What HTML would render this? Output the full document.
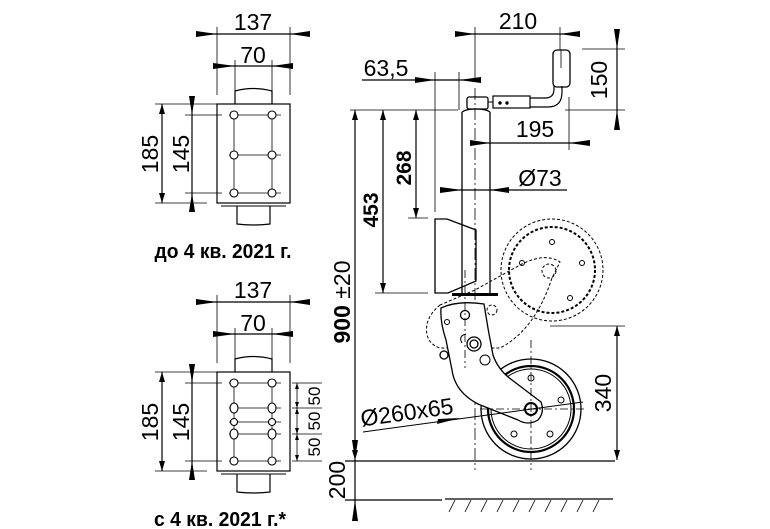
<!DOCTYPE html>
<html><head><meta charset="utf-8"><style>
html,body{margin:0;padding:0;background:#fff}
svg{display:block}
text{font-family:"Liberation Sans",sans-serif;fill:#000}
.b{font-weight:bold}
</style></head><body>
<svg width="770" height="529" viewBox="0 0 770 529" xmlns="http://www.w3.org/2000/svg">
<defs>
<marker id="a" viewBox="0 0 10 6" refX="10" refY="3" markerWidth="10" markerHeight="6" orient="auto-start-reverse" markerUnits="userSpaceOnUse"><path d="M0,0L10,3L0,6z" fill="#000"/></marker>
<g id="pv">
 <line x1="196" y1="34" x2="310" y2="34" stroke="#000" stroke-width="1.2"/>
 <path d="M196,31L217,34L196,37z M310,31L290,34L310,37z" fill="#000"/>
 <line x1="217" y1="27" x2="217" y2="95" stroke="#000" stroke-width="0.8"/>
 <line x1="290" y1="27" x2="290" y2="95" stroke="#000" stroke-width="0.8"/>
 <text x="253" y="30" font-size="23" text-anchor="middle">137</text>
 <line x1="213" y1="66" x2="293" y2="66" stroke="#000" stroke-width="1.2"/>
 <path d="M213,63L235,66L213,69z M293,63L272,66L293,69z" fill="#000"/>
 <line x1="235" y1="60" x2="235" y2="104" stroke="#000" stroke-width="0.8"/>
 <line x1="272" y1="60" x2="272" y2="104" stroke="#000" stroke-width="0.8"/>
 <text x="253" y="63" font-size="23" text-anchor="middle">70</text>
 <path d="M235,104V91Q253,86 272,91V104" fill="none" stroke="#000" stroke-width="1.2"/>
 <rect x="217" y="104" width="73" height="99" fill="none" stroke="#000" stroke-width="1.2"/>
 <line x1="221" y1="206" x2="286" y2="206" stroke="#000" stroke-width="1"/>
 <path d="M237,206V224Q253,226 270,224V206" fill="none" stroke="#000" stroke-width="1.2"/>
 <line x1="155" y1="104" x2="217" y2="104" stroke="#000" stroke-width="0.8"/>
 <line x1="155" y1="203" x2="207" y2="203" stroke="#000" stroke-width="0.8"/>
 <line x1="162" y1="104" x2="162" y2="203" stroke="#000" stroke-width="1.2" marker-start="url(#a)" marker-end="url(#a)"/>
 <text transform="translate(158,154) rotate(-90)" font-size="23" text-anchor="middle">185</text>
 <line x1="192" y1="96" x2="192" y2="212" stroke="#000" stroke-width="1.2"/>
 <path d="M189,96L192,115L195,96z M189,212L192,193L195,212z" fill="#000"/>
 <text transform="translate(189,154) rotate(-90)" font-size="23" text-anchor="middle">145</text>
</g>
</defs>

<use href="#pv"/>
<g stroke="#000" fill="none" stroke-width="0.8">
 <line x1="185" y1="115" x2="222" y2="115"/><line x1="185" y1="193" x2="222" y2="193"/>
 <line x1="229" y1="115" x2="281" y2="115"/><line x1="229" y1="155" x2="281" y2="155"/><line x1="229" y1="193" x2="281" y2="193"/>
 <line x1="234" y1="115" x2="234" y2="193"/><line x1="272" y1="115" x2="272" y2="193"/>
 <g fill="#fff" stroke-width="1.1">
 <circle cx="234" cy="115" r="4"/><circle cx="272" cy="115" r="4"/>
 <circle cx="234" cy="155" r="4"/><circle cx="272" cy="155" r="4"/>
 <circle cx="234" cy="193" r="4"/><circle cx="272" cy="193" r="4"/></g>
</g>
<text x="223" y="258" font-size="20" class="b" text-anchor="middle" textLength="137" lengthAdjust="spacingAndGlyphs">до 4 кв. 2021 г.</text>

<use href="#pv" transform="translate(0,268)"/>
<g stroke="#000" fill="none" stroke-width="0.8">
 <line x1="185" y1="383" x2="222" y2="383"/><line x1="185" y1="461" x2="222" y2="461"/>
 <line x1="229" y1="383" x2="281" y2="383"/><line x1="229" y1="408" x2="281" y2="408"/><line x1="229" y1="422" x2="281" y2="422"/><line x1="229" y1="434" x2="281" y2="434"/><line x1="229" y1="461" x2="281" y2="461"/>
 <line x1="234" y1="383" x2="234" y2="461"/><line x1="272" y1="383" x2="272" y2="461"/>
 <g fill="#fff" stroke-width="1.1">
 <circle cx="234" cy="383" r="4"/><circle cx="272" cy="383" r="4"/>
 <ellipse cx="234" cy="408" rx="4" ry="5"/><ellipse cx="272" cy="408" rx="4" ry="5"/>
 <circle cx="234" cy="422" r="3.5"/><circle cx="272" cy="422" r="3.5"/>
 <ellipse cx="234" cy="434" rx="4" ry="5"/><ellipse cx="272" cy="434" rx="4" ry="5"/>
 <circle cx="234" cy="461" r="4"/><circle cx="272" cy="461" r="4"/></g>
 <line x1="292" y1="383" x2="322" y2="383"/><line x1="292" y1="408" x2="322" y2="408"/><line x1="292" y1="434" x2="322" y2="434"/><line x1="292" y1="461" x2="322" y2="461"/>
 <line x1="297" y1="383" x2="297" y2="461"/>
</g>
<path d="M295,389L297,383L299,389z M295,402L297,408L299,402z M295,414L297,408L299,414z M295,428L297,434L299,428z M295,440L297,434L299,440z M295,455L297,461L299,455z" fill="#000"/>
<text transform="translate(320,396) rotate(-90)" font-size="17" text-anchor="middle">50</text>
<text transform="translate(320,421) rotate(-90)" font-size="17" text-anchor="middle">50</text>
<text transform="translate(320,447) rotate(-90)" font-size="17" text-anchor="middle">50</text>
<text x="220" y="526" font-size="20" class="b" text-anchor="middle" textLength="132" lengthAdjust="spacingAndGlyphs">с 4 кв. 2021 г.*</text>

<g stroke="#000" fill="none" stroke-width="1">
 <line x1="455" y1="34" x2="580" y2="34" stroke-width="1.2"/>
 <path d="M455,31L475,34L455,37z M580,31L560,34L580,37z" fill="#000" stroke="none"/>
 <line x1="475" y1="27" x2="475" y2="80" stroke-width="0.8"/>
 <line x1="560" y1="27" x2="560" y2="50" stroke-width="0.8"/>
 <line x1="362" y1="80" x2="481" y2="80" stroke-width="1.2"/>
 <path d="M415,77L435,80L415,83z M481,77L459,80L481,83z" fill="#000" stroke="none"/>
 <line x1="435" y1="72" x2="435" y2="212" stroke-width="0.8"/>
 <line x1="459" y1="72" x2="459" y2="110" stroke-width="0.8"/>
 <line x1="350" y1="110" x2="458" y2="110" stroke-width="0.8"/>
 <line x1="565" y1="110" x2="625" y2="110" stroke-width="0.8"/>
 <line x1="582" y1="49" x2="625" y2="49" stroke-width="0.8"/>
 <line x1="617" y1="29" x2="617" y2="130" stroke-width="1.2"/>
 <path d="M614,29L617,49L620,29z M614,130L617,110L620,130z" fill="#000" stroke="none"/>
 <line x1="470" y1="143" x2="590" y2="143" stroke-width="1.2"/>
 <path d="M470,140L490,143L470,146z M590,140L569,143L590,146z" fill="#000" stroke="none"/>
 <line x1="569" y1="97" x2="569" y2="150" stroke-width="0.8"/>
 <line x1="440" y1="190" x2="567" y2="190" stroke-width="1.2"/>
 <path d="M440,187L462,190L440,193z M509,187L490,190L509,193z" fill="#000" stroke="none"/>
 <line x1="416" y1="110" x2="416" y2="218" stroke-width="1.2" marker-start="url(#a)" marker-end="url(#a)"/>
 <line x1="408" y1="218" x2="428" y2="218" stroke-width="0.8"/>
 <line x1="383" y1="110" x2="383" y2="293" stroke-width="1.2" marker-start="url(#a)" marker-end="url(#a)"/>
 <line x1="375" y1="293" x2="428" y2="293" stroke-width="0.8"/>
 <line x1="355" y1="110" x2="355" y2="460" stroke-width="1.2" marker-start="url(#a)" marker-end="url(#a)"/>
 <line x1="355" y1="460" x2="355" y2="521" stroke-width="1.2"/>
 <path d="M352,440L355,460L358,440z M352,521L355,500L358,521z" fill="#000" stroke="none"/>
 <line x1="345" y1="461" x2="615" y2="461" stroke-width="1.2"/>
 <line x1="345" y1="500" x2="442" y2="500" stroke-width="1.2"/>
 <line x1="445" y1="499" x2="613" y2="499" stroke-width="1.2"/>
 <g stroke-width="0.8">
 <path d="M455,500l-6,12M471,500l-6,12M487,500l-6,12M503,500l-6,12M519,500l-6,12M535,500l-6,12M551,500l-6,12M567,500l-6,12M583,500l-6,12M599,500l-6,12"/>
 </g>
 <line x1="550" y1="326" x2="625" y2="326" stroke-width="0.8"/>
 <line x1="617" y1="326" x2="617" y2="460" stroke-width="1.2" marker-start="url(#a)" marker-end="url(#a)"/>

 <line x1="462" y1="112" x2="462" y2="293" stroke-width="1.3"/>
 <line x1="490" y1="112" x2="490" y2="293" stroke-width="1.3"/>
 <line x1="475" y1="88" x2="475" y2="470" stroke-width="0.8" stroke-dasharray="12,3,2,3"/>
 <path d="M462,112Q466,109 476,109Q486,109 490,112" stroke-width="1.3"/>
 <rect x="467" y="97" width="21" height="12" rx="2" stroke-width="1.3"/>
 <rect x="493" y="96" width="37" height="12" stroke-width="1.2"/>
 <line x1="488" y1="102" x2="493" y2="102"/>
 <circle cx="500" cy="103" r="1.2" fill="#000"/><circle cx="507" cy="103" r="1.2" fill="#000"/>
 <path d="M530,98H545Q554,98 554,89V86 M530,107H548Q562,107 562,92V86" stroke-width="1.2"/>
 <rect x="553" y="50" width="17" height="37" rx="4" stroke-width="1.3"/>
 <line x1="561" y1="50" x2="561" y2="68" stroke-width="0.8"/>
 <path d="M435,219H447L476,230V281L448,293H435Z" stroke-width="1.3"/>
 <rect x="452" y="293" width="46" height="3" fill="#000" stroke="none"/>
 <g stroke-dasharray="3,2" stroke-width="1">
 <circle cx="552" cy="270" r="51"/>
 <circle cx="552" cy="270" r="43" stroke-width="2"/>
 <path d="M440,305Q424,318 427,335Q430,345 440,348H500Q535,330 552,278L560,262Q545,252 520,265L475,290Z"/>
 <circle cx="549" cy="271" r="7"/>
 <circle cx="465" cy="318" r="9"/>
 <circle cx="492" cy="310" r="5"/>
 </g>
 <g stroke-width="1"><circle cx="552" cy="242" r="2.5"/><circle cx="582" cy="263" r="2.5"/><circle cx="522" cy="263" r="2.5"/><circle cx="570" cy="298" r="2.5"/></g>
 <circle cx="531" cy="409" r="50" fill="#fff" stroke-width="1.3"/>
 <circle cx="531" cy="409" r="43" stroke-width="2.2"/>
 <circle cx="531" cy="409" r="40" stroke-width="1"/>
 <g stroke-width="1"><circle cx="531" cy="378" r="3"/><circle cx="561" cy="400" r="3"/><circle cx="514" cy="434" r="3"/><circle cx="550" cy="434" r="3"/></g>
 <path d="M441,308Q458,300 484,304Q488,330 493,355Q498,370 512,380L541,402Q545,412 538,420Q528,426 518,420L478,404Q455,392 452,370L446,340Q440,322 441,308Z" fill="#fff" stroke-width="1.3"/>
 <circle cx="531" cy="409" r="6" stroke-width="2"/>
 <circle cx="447" cy="322" r="2.5"/>
 <circle cx="485" cy="360" r="5"/>
 <circle cx="474" cy="344" r="7" stroke-width="1.3"/><circle cx="474" cy="344" r="4" stroke-width="1.3"/>
 <circle cx="465" cy="315" r="4.5" stroke-width="1.3"/>
 <path d="M462,343Q458,336 466,334" stroke-width="1"/>
 <circle cx="444" cy="355" r="4" stroke-width="1.3"/>
 <line x1="531" y1="340" x2="531" y2="470" stroke-width="0.8" stroke-dasharray="8,3,2,3"/>
 <line x1="480" y1="409" x2="585" y2="409" stroke-width="0.8" stroke-dasharray="8,3,2,3"/>
 <line x1="465" y1="270" x2="465" y2="368" stroke-width="0.8" stroke-dasharray="8,3,2,3"/>
 <line x1="363" y1="432" x2="583" y2="402" stroke-width="1"/>
 <path d="M437,424L460,418L438,419z" fill="#000" stroke="none"/>
</g>
<g font-size="23">
 <text x="518" y="29" text-anchor="middle">210</text>
 <text x="386" y="76" text-anchor="middle">63,5</text>
 <text x="535" y="137" text-anchor="middle">195</text>
 <text x="540" y="186" text-anchor="middle">Ø73</text>
 <text transform="translate(607,80) rotate(-90)" text-anchor="middle">150</text>
 <text transform="translate(611,393) rotate(-90)" text-anchor="middle">340</text>
 <text transform="translate(345,480) rotate(-90)" text-anchor="middle">200</text>
 <text transform="translate(408,420) rotate(-8)" text-anchor="middle">Ø260x65</text>
 <text transform="translate(411,168) rotate(-90)" class="b" font-size="21" text-anchor="middle">268</text>
 <text transform="translate(378,210) rotate(-90)" class="b" font-size="21" text-anchor="middle">453</text>
 <text transform="translate(350,302) rotate(-90)" text-anchor="middle"><tspan class="b">900</tspan> ±20</text>
</g>
</svg>
</body></html>
